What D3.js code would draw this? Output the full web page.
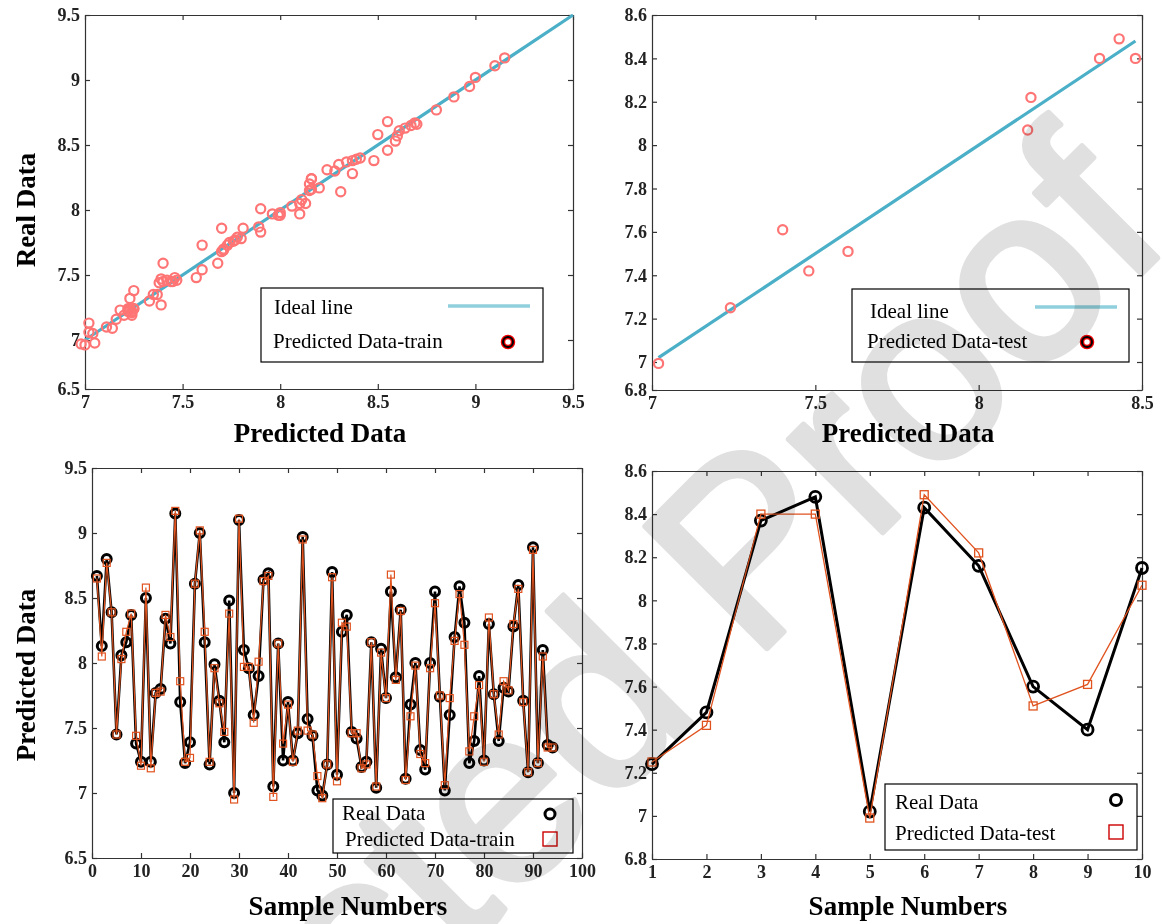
<!DOCTYPE html>
<html>
<head>
<meta charset="utf-8">
<script src="https://cdn.jsdelivr.net/npm/d3@7"></script>
<style>
  body { margin: 0; background: #fff; }
  svg { font-family: "Liberation Serif", "Times New Roman", serif; }
  .tick text { font-family: "Liberation Serif", "Times New Roman", serif; font-weight: bold; font-size: 18px; fill: #222; }
  .domain, .tick line { stroke: #333; stroke-width: 1.2; }
  .lbl { font-weight: bold; font-size: 27px; fill: #000; }
  .leg { font-size: 21px; fill: #000; }
</style>
</head>
<body>
<script>
// training set (sample 1..94)
const trainReal = [8.67, 8.13, 8.80, 8.39, 7.45, 8.06, 8.16, 8.37, 7.38, 7.24,
  8.50, 7.24, 7.77, 7.80, 8.34, 8.15, 9.15, 7.70, 7.23, 7.39,
  8.61, 9.00, 8.16, 7.22, 7.99, 7.71, 7.39, 8.48, 7.00, 9.10,
  8.10, 7.96, 7.60, 7.90, 8.64, 8.69, 7.05, 8.15, 7.25, 7.70,
  7.25, 7.46, 8.97, 7.57, 7.44, 7.02, 6.98, 7.22, 8.70, 7.14,
  8.24, 8.37, 7.47, 7.42, 7.20, 7.24, 8.16, 7.04, 8.11, 7.73,
  8.55, 7.89, 8.41, 7.11, 7.68, 8.00, 7.33, 7.18, 8.00, 8.55,
  7.74, 7.02, 7.60, 8.20, 8.59, 8.31, 7.23, 7.40, 7.90, 7.25,
  8.30, 7.76, 7.40, 7.81, 7.78, 8.28, 8.60, 7.71, 7.16, 8.89,
  7.23, 8.10, 7.37, 7.35];
const trainPred = [8.65, 8.05, 8.77, 8.39, 7.45, 8.03, 8.24, 8.38, 7.44, 7.21,
  8.58, 7.19, 7.77, 7.78, 8.37, 8.20, 9.17, 7.86, 7.24, 7.27,
  8.61, 9.02, 8.24, 7.24, 7.96, 7.69, 7.47, 8.38, 6.95, 9.11,
  7.97, 7.97, 7.54, 8.01, 8.63, 8.67, 6.97, 8.15, 7.38, 7.68,
  7.24, 7.48, 8.95, 7.48, 7.45, 7.13, 6.96, 7.22, 8.66, 7.09,
  8.31, 8.28, 7.46, 7.46, 7.19, 7.22, 8.16, 7.05, 8.08, 7.73,
  8.68, 7.87, 8.40, 7.10, 7.59, 7.98, 7.30, 7.23, 7.96, 8.46,
  7.75, 7.06, 7.73, 8.17, 8.53, 8.14, 7.32, 7.59, 7.83, 7.24,
  8.35, 7.76, 7.45, 7.86, 7.79, 8.30, 8.57, 7.70, 7.16, 8.87,
  7.23, 8.05, 7.35, 7.35];
// test set (sample 1..10)
const testReal = [7.24, 7.48, 8.37, 8.48, 7.02, 8.43, 8.16, 7.60, 7.40, 8.15];
const testPred = [7.25, 7.42, 8.40, 8.40, 6.99, 8.49, 8.22, 7.51, 7.61, 8.07];

const tlXTicks = [7, 7.5, 8, 8.5, 9, 9.5];
const tlYTicks = [6.5, 7, 7.5, 8, 8.5, 9, 9.5];
const trXTicks = [7, 7.5, 8, 8.5];
const trYTicks = [6.8, 7, 7.2, 7.4, 7.6, 7.8, 8, 8.2, 8.4, 8.6];
const blXTicks = [0, 10, 20, 30, 40, 50, 60, 70, 80, 90, 100];
const blYTicks = [6.5, 7, 7.5, 8, 8.5, 9, 9.5];
const brXTicks = [1, 2, 3, 4, 5, 6, 7, 8, 9, 10];
const brYTicks = [6.8, 7, 7.2, 7.4, 7.6, 7.8, 8, 8.2, 8.4, 8.6];

const width = 1162, height = 924;
const svg = d3.select("body").append("svg")
  .attr("width", width).attr("height", height);
svg.append("rect").attr("width", width).attr("height", height).attr("fill", "#fff");

const fmt = d => String(+d.toFixed(2));
const idealCol = "#4aafc7", dotCol = "#ff7474", predCol = "#e0531f";

function frame(x, y, xt, yt) {
  const xr = x.range(), yr = y.range();
  const x0 = xr[0], x1 = xr[xr.length - 1], y0 = yr[0], y1 = yr[yr.length - 1];
  const g = svg.append("g");
  g.append("g").attr("transform", `translate(0,${y0})`)
    .call(d3.axisBottom(x).tickValues(xt).tickSize(-5).tickSizeOuter(0).tickPadding(6).tickFormat(fmt));
  g.append("g").attr("transform", `translate(0,${y1})`)
    .call(d3.axisTop(x).tickValues(xt).tickSize(-5).tickSizeOuter(0).tickFormat(""));
  g.append("g").attr("transform", `translate(${x0},0)`)
    .call(d3.axisLeft(y).tickValues(yt).tickSize(-5).tickSizeOuter(0).tickPadding(5).tickFormat(fmt));
  g.append("g").attr("transform", `translate(${x1},0)`)
    .call(d3.axisRight(y).tickValues(yt).tickSize(-5).tickSizeOuter(0).tickFormat(""));
  return g;
}

function legendBox(x, y, w, h) {
  svg.append("rect").attr("x", x).attr("y", y).attr("width", w).attr("height", h)
    .attr("fill", "none").attr("stroke", "#000").attr("stroke-width", 1.2);
}

function ringMarker(cx, cy) {
  svg.append("circle").attr("cx", cx).attr("cy", cy).attr("r", 5)
    .attr("fill", "none").attr("stroke", "#e00").attr("stroke-width", 4.5);
  svg.append("circle").attr("cx", cx).attr("cy", cy).attr("r", 5)
    .attr("fill", "none").attr("stroke", "#000").attr("stroke-width", 2);
}

// ---------- top-left: training scatter ----------
const x1 = d3.scaleLinear().domain([7, 9.5]).range([85, 573]);
const y1 = d3.scaleLinear().domain([6.5, 7, 9.5]).range([389, 340, 15]);
frame(x1, y1, tlXTicks, tlYTicks);
svg.append("line")
  .attr("x1", x1(7)).attr("y1", y1(7)).attr("x2", x1(9.5)).attr("y2", y1(9.5))
  .attr("stroke", idealCol).attr("stroke-width", 3.2);
svg.append("g").selectAll("circle").data(trainReal).join("circle")
  .attr("cx", d => x1(d)).attr("cy", (d, i) => y1(trainPred[i])).attr("r", 4.6)
  .attr("fill", "none").attr("stroke", dotCol).attr("stroke-width", 2.2);
svg.append("text").attr("class", "lbl").attr("x", 320).attr("y", 442)
  .attr("text-anchor", "middle").text("Predicted Data");
svg.append("text").attr("class", "lbl").attr("transform", "translate(35,210) rotate(-90)")
  .attr("text-anchor", "middle").text("Real Data");
legendBox(261, 288, 282, 74);
svg.append("text").attr("class", "leg").attr("x", 274).attr("y", 314).text("Ideal line");
svg.append("text").attr("class", "leg").attr("x", 273).attr("y", 348).text("Predicted Data-train");
svg.append("line").attr("x1", 448).attr("x2", 530).attr("y1", 306).attr("y2", 306)
  .attr("stroke", "#8fd0dc").attr("stroke-width", 3.5);
ringMarker(508, 342);

// ---------- top-right: test scatter ----------
const x2 = d3.scaleLinear().domain([7, 8.5]).range([652, 1142]);
const y2 = d3.scaleLinear().domain([6.8, 7, 8.6]).range([390, 362, 15]);
frame(x2, y2, trXTicks, trYTicks);
const ext = d3.extent(testReal);
svg.append("line")
  .attr("x1", x2(ext[0])).attr("y1", y2(ext[0])).attr("x2", x2(ext[1])).attr("y2", y2(ext[1]))
  .attr("stroke", idealCol).attr("stroke-width", 3.2);
svg.append("g").selectAll("circle").data(testReal).join("circle")
  .attr("cx", d => x2(d)).attr("cy", (d, i) => y2(testPred[i])).attr("r", 4.6)
  .attr("fill", "none").attr("stroke", dotCol).attr("stroke-width", 2.2);
svg.append("text").attr("class", "lbl").attr("x", 908).attr("y", 442)
  .attr("text-anchor", "middle").text("Predicted Data");
legendBox(852, 289, 277, 73);
svg.append("text").attr("class", "leg").attr("x", 870).attr("y", 318).text("Ideal line");
svg.append("text").attr("class", "leg").attr("x", 867).attr("y", 348).text("Predicted Data-test");
svg.append("line").attr("x1", 1035).attr("x2", 1117).attr("y1", 307).attr("y2", 307)
  .attr("stroke", "#8fd0dc").attr("stroke-width", 3.5);
ringMarker(1087, 342);

// ---------- bottom-left: training series ----------
const x3 = d3.scaleLinear().domain([0, 100]).range([92, 582]);
const y3 = d3.scaleLinear().domain([6.5, 9.5]).range([858, 468]);
frame(x3, y3, blXTicks, blYTicks);
const line3r = d3.line().x((d, i) => x3(i + 1)).y(d => y3(d));
svg.append("path").datum(trainReal).attr("d", line3r)
  .attr("fill", "none").attr("stroke", "#000").attr("stroke-width", 2.6);
svg.append("g").selectAll("circle").data(trainReal).join("circle")
  .attr("cx", (d, i) => x3(i + 1)).attr("cy", d => y3(d)).attr("r", 4.5)
  .attr("fill", "none").attr("stroke", "#000").attr("stroke-width", 3);
svg.append("path").datum(trainPred).attr("d", line3r)
  .attr("fill", "none").attr("stroke", predCol).attr("stroke-width", 1.2);
svg.append("g").selectAll("rect").data(trainPred).join("rect")
  .attr("x", (d, i) => x3(i + 1) - 3.5).attr("y", d => y3(d) - 3.5)
  .attr("width", 7).attr("height", 7)
  .attr("fill", "none").attr("stroke", predCol).attr("stroke-width", 1.2);
svg.append("text").attr("class", "lbl").attr("x", 348).attr("y", 915)
  .attr("text-anchor", "middle").text("Sample Numbers");
svg.append("text").attr("class", "lbl").attr("transform", "translate(35,675) rotate(-90)")
  .attr("text-anchor", "middle").text("Predicted Data");
legendBox(333, 799, 240, 54);
svg.append("text").attr("class", "leg").attr("font-size", 19).attr("x", 342).attr("y", 820).text("Real Data");
svg.append("text").attr("class", "leg").attr("font-size", 19).attr("x", 345).attr("y", 846).text("Predicted Data-train");
svg.append("circle").attr("cx", 550).attr("cy", 814).attr("r", 5)
  .attr("fill", "none").attr("stroke", "#000").attr("stroke-width", 3);
svg.append("rect").attr("x", 543).attr("y", 832).attr("width", 14).attr("height", 14)
  .attr("fill", "none").attr("stroke", "#c00").attr("stroke-width", 1.4);

// ---------- bottom-right: test series ----------
const x4 = d3.scaleLinear().domain([1, 10]).range([652, 1142]);
const y4 = d3.scaleLinear().domain([6.8, 8.6]).range([859, 471]);
frame(x4, y4, brXTicks, brYTicks);
const line4 = d3.line().x((d, i) => x4(i + 1)).y(d => y4(d));
svg.append("path").datum(testReal).attr("d", line4)
  .attr("fill", "none").attr("stroke", "#000").attr("stroke-width", 3);
svg.append("g").selectAll("circle").data(testReal).join("circle")
  .attr("cx", (d, i) => x4(i + 1)).attr("cy", d => y4(d)).attr("r", 5.5)
  .attr("fill", "none").attr("stroke", "#000").attr("stroke-width", 2.8);
svg.append("path").datum(testPred).attr("d", line4)
  .attr("fill", "none").attr("stroke", predCol).attr("stroke-width", 1.3);
svg.append("g").selectAll("rect").data(testPred).join("rect")
  .attr("x", (d, i) => x4(i + 1) - 4).attr("y", d => y4(d) - 4)
  .attr("width", 8).attr("height", 8)
  .attr("fill", "none").attr("stroke", predCol).attr("stroke-width", 1.3);
svg.append("text").attr("class", "lbl").attr("x", 908).attr("y", 915)
  .attr("text-anchor", "middle").text("Sample Numbers");
legendBox(885, 784, 252, 66);
svg.append("text").attr("class", "leg").attr("x", 895).attr("y", 809).text("Real Data");
svg.append("text").attr("class", "leg").attr("x", 895).attr("y", 840).text("Predicted Data-test");
svg.append("circle").attr("cx", 1116).attr("cy", 800).attr("r", 5.5)
  .attr("fill", "none").attr("stroke", "#000").attr("stroke-width", 3);
svg.append("rect").attr("x", 1109).attr("y", 825).attr("width", 14).attr("height", 14)
  .attr("fill", "none").attr("stroke", "#c00").attr("stroke-width", 1.4);

// ---------- watermark ----------
svg.append("text")
  .attr("transform", "translate(1175,240) rotate(-45)")
  .attr("text-anchor", "end")
  .attr("font-family", "Liberation Sans, Arial, sans-serif")
  .attr("font-size", 250)
  .attr("fill", "#e0e0e0")
  .attr("stroke", "#e0e0e0")
  .attr("stroke-width", 6)
  .attr("stroke-linejoin", "round")
  .style("mix-blend-mode", "multiply")
  .text("Uncorrected Proof");
</script>
</body>
</html>
